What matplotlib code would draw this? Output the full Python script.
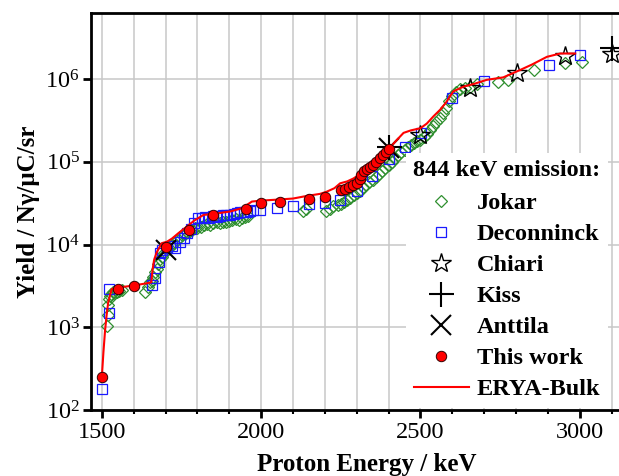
import matplotlib
matplotlib.use("Agg")
import matplotlib.pyplot as plt
from matplotlib.ticker import MultipleLocator, LogLocator, NullLocator

plt.rcParams["font.family"] = ["Liberation Serif", "DejaVu Serif"]
plt.rcParams["mathtext.fontset"] = "stix"

# Jokar (open green diamonds)
jokar_e = [1516, 1518, 1520, 1522, 1525, 1530, 1536, 1542, 1548, 1555, 1563,
           1636, 1646, 1652, 1657, 1662, 1667, 1672, 1677, 1682, 1688, 1694,
           1705, 1712, 1720, 1728, 1736, 1744, 1752, 1760, 1768, 1776, 1784,
           1792, 1800, 1810, 1820, 1830, 1840, 1850, 1860, 1870, 1880, 1890,
           1900, 1910, 1920, 1930, 1940, 1950, 1960,
           2130, 2140, 2205, 2215, 2225, 2240, 2250, 2260, 2270, 2280, 2290,
           2300, 2310, 2320, 2330, 2340, 2350, 2360, 2370, 2380, 2390, 2400,
           2410, 2420, 2430, 2440, 2450, 2460, 2470, 2480, 2490, 2500, 2510,
           2520, 2530, 2540, 2550, 2560, 2570, 2580, 2590, 2600, 2612, 2624,
           2640, 2655, 2676, 2745, 2776, 2855, 2954, 3006]
jokar_y = [1050, 1400, 1850, 2200, 2400, 2550, 2650, 2600, 2700, 2750, 2800,
           2700, 3100, 3500, 3600, 4100, 4700, 5100, 5900, 6600, 7100, 7800,
           8500, 9200, 10000, 10500, 11500, 12300, 13000, 13500, 14000, 14500, 15000,
           16000, 16000, 16500, 17000, 17500, 17000, 18000, 18500, 18000, 19000, 19000,
           19500, 20000, 20500, 20000, 21000, 21500, 22000,
           25500, 27000, 25500, 27000, 29000, 30000, 31000, 33000, 35000, 37000, 40000,
           42000, 45000, 49000, 53000, 57000, 61000, 66000, 72000, 78000, 85000, 92000,
           100000, 110000, 120000, 130000, 140000, 150000, 160000, 170000, 180000, 185000, 200000,
           220000, 240000, 270000, 300000, 340000, 390000, 450000, 540000, 630000, 700000, 770000,
           790000, 810000, 880000, 930000, 980000, 1290000, 1550000, 1620000]

# Deconninck (open blue squares)
decon_e = [1500, 1521, 1522, 1657, 1667, 1678, 1683, 1690, 1705, 1720, 1730,
           1746, 1757, 1767, 1780, 1790, 1803, 1815, 1825, 1835, 1850, 1860,
           1870, 1880, 1890, 1903, 1915, 1925, 1935, 1945, 1955, 1965, 1975,
           1997, 2051, 2101, 2150, 2201, 2248, 2300, 2347, 2402, 2452, 2503,
           2600, 2700, 2902, 3001]
decon_y = [180, 1500, 2900, 3200, 3900, 6200, 7800, 8500, 9000, 9500, 9000,
           10700, 12000, 13800, 15500, 18000, 21000, 21000, 21500, 21000, 22000, 21500,
           22000, 22500, 23000, 23000, 23500, 24000, 24500, 24500, 25000, 25500, 26000,
           26300, 27500, 29000, 31000, 31500, 34700, 44000, 67000, 107000, 151000, 222000,
           590000, 940000, 1480000, 1950000]

# Chiari (open black stars)
chiari_e = [2500, 2655, 2802, 2955, 3100]
chiari_y = [210000, 780000, 1180000, 1880000, 2040000]

# Kiss (plus)
kiss_e = [2400, 3100]
kiss_y = [150000, 2350000]

# Anttila (cross)
anttila_e = [1700, 2400]
anttila_y = [8500, 145000]

# This work (filled red circles)
work_e = [1500, 1550, 1600, 1700, 1775, 1848, 1951, 2000, 2060, 2150, 2201,
          2250, 2262, 2275, 2287, 2300, 2310, 2315, 2322, 2332, 2342, 2352,
          2362, 2372, 2382, 2392, 2400]
work_y = [248, 2880, 3180, 9440, 15000, 22800, 26700, 31500, 32400, 35900, 37600,
          46000, 47500, 50000, 52000, 56000, 62000, 69000, 77000, 83000, 87500, 92000,
          100000, 110000, 120000, 130000, 142000]

# ERYA-Bulk simulation (red line)
erya_e = [1500, 1505, 1510, 1515, 1520, 1531, 1560, 1600, 1650, 1655, 1660,
          1664, 1672, 1688, 1704, 1720, 1740, 1767, 1790, 1819, 1850, 1903,
          1940, 1971, 2000, 2039, 2100, 2143, 2185, 2206, 2230, 2248, 2270,
          2290, 2320, 2342, 2370, 2395, 2415, 2426, 2447, 2470, 2500, 2520,
          2541, 2562, 2580, 2603, 2635, 2670, 2708, 2760, 2813, 2850, 2897,
          2939, 2986]
erya_y = [250, 500, 900, 1400, 2000, 2900, 3050, 3200, 3450, 3500, 5200,
          6500, 8000, 10400, 10800, 11800, 13700, 16500, 19500, 22800, 23500, 25100,
          27500, 33100, 34000, 34700, 36000, 38700, 41000, 43600, 48000, 55000, 58000,
          63000, 75000, 91000, 110000, 138000, 165000, 184000, 224000, 240000, 255000, 290000,
          355000, 427000, 520000, 710000, 810000, 880000, 980000, 1050000, 1290000, 1500000, 1860000,
          2040000, 2040000]

W, H = 619, 476
fig = plt.figure(figsize=(W / 100, H / 100), dpi=100)
x0, x1 = 1466, 3200
px_per_kev = 0.3186
ax_w = (x1 - x0) * px_per_kev
ax = fig.add_axes([91 / W, 66 / H, ax_w / W, 397 / H])

ax.plot(jokar_e, jokar_y, linestyle="none", marker="D", markersize=6,
        markerfacecolor="none", markeredgecolor="#2f8f2f", markeredgewidth=0.9,
        label="Jokar", zorder=3)
ax.plot(decon_e, decon_y, linestyle="none", marker="s", markersize=6.5,
        markerfacecolor="none", markeredgecolor="#1a1aff", markeredgewidth=0.9,
        label="Deconninck", zorder=3)
ax.plot(chiari_e, chiari_y, linestyle="none", marker="*", markersize=15,
        markerfacecolor="none", markeredgecolor="black", markeredgewidth=1.0,
        label="Chiari", zorder=4)
ax.plot(kiss_e, kiss_y, linestyle="none", marker="+", markersize=18,
        markeredgecolor="black", markeredgewidth=1.5, label="Kiss", zorder=4)
ax.plot(anttila_e, anttila_y, linestyle="none", marker="x", markersize=14,
        markeredgecolor="black", markeredgewidth=1.5, label="Anttila", zorder=4)
ax.plot(work_e, work_y, linestyle="none", marker="o", markersize=7.5,
        markerfacecolor="#ff0000", markeredgecolor="#330000", markeredgewidth=0.7,
        label="This work", zorder=5)
ax.plot(erya_e, erya_y, color="#ff0000", linewidth=1.5, label="ERYA-Bulk", zorder=4.5)

ax.set_yscale("log")
ax.set_xlim(x0, x1)
ax.set_ylim(100, 6.3e6)

ax.xaxis.set_major_locator(MultipleLocator(500))
ax.xaxis.set_minor_locator(MultipleLocator(100))
ax.yaxis.set_major_locator(LogLocator(base=10, numticks=10))
ax.yaxis.set_minor_locator(NullLocator())

ax.grid(True, which="both", axis="x", color="#c8c8c8", linewidth=1.1, zorder=0)
ax.grid(True, which="major", axis="y", color="#c8c8c8", linewidth=1.1, zorder=0)
ax.set_axisbelow(True)

for side in ("left", "bottom", "top", "right"):
    ax.spines[side].set_linewidth(2.0)
ax.tick_params(axis="both", which="major", direction="out", length=6, width=2.0,
               labelsize=17.5, pad=3)
ax.tick_params(axis="x", which="minor", direction="out", length=3, width=1.5)
ax.tick_params(axis="y", which="major", pad=2)

ax.set_xlabel("Proton Energy / keV", fontsize=18, fontweight="bold", labelpad=7)
ax.set_ylabel("Yield / Nγ/μC/sr", fontsize=18, fontweight="bold", labelpad=4)

leg = ax.legend(loc="upper left", bbox_to_anchor=(406 / W, 1 - 153 / H),
                bbox_transform=fig.transFigure, frameon=True, framealpha=1.0,
                facecolor="white", edgecolor="none", fancybox=False,
                title="844 keV emission:",
                prop={"size": 17.5, "weight": "bold"},
                title_fontproperties={"size": 17.5, "weight": "bold"},
                handlelength=2.3, handletextpad=0.3, labelspacing=0.37,
                borderpad=0.3, borderaxespad=0)
leg._legend_box.sep = 8
leg.set_zorder(10)

fig.savefig("out.png", dpi=100)
